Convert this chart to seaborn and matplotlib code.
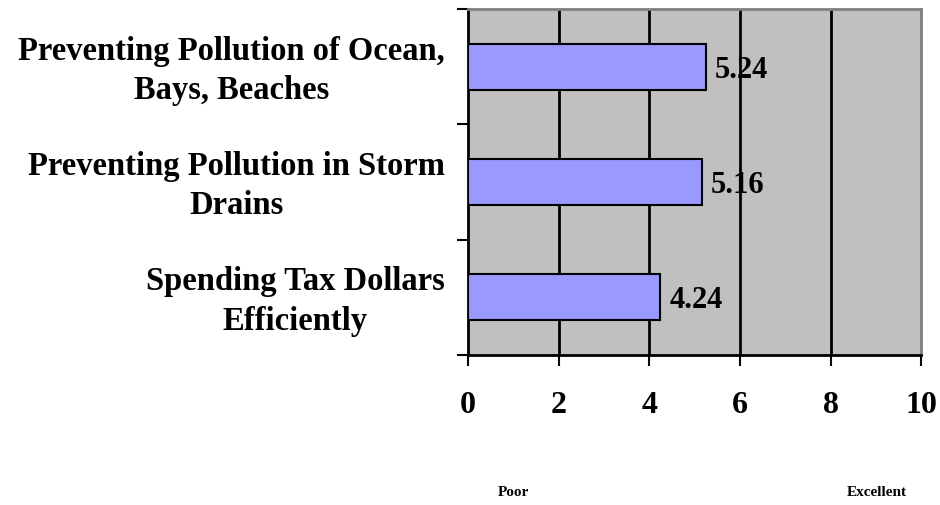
import matplotlib
matplotlib.use("Agg")
import matplotlib.pyplot as plt
import numpy as np
import pandas as pd
import seaborn as sns

# data
categories = [
    "Preventing Pollution of Ocean,\nBays, Beaches",
    "Preventing Pollution in Storm\nDrains",
    "Spending Tax Dollars\nEfficiently",
]
scores = [5.24, 5.16, 4.24]
x_ticks = [0, 2, 4, 6, 8, 10]

df = pd.DataFrame({"Category": categories, "Score": scores})

sns.set_style("white")
plt.rcParams["font.family"] = ["Liberation Serif", "DejaVu Serif"]
plt.rcParams["font.weight"] = "bold"
plt.rcParams["text.color"] = "black"
plt.rcParams["xtick.color"] = "black"
plt.rcParams["ytick.color"] = "black"

fig = plt.figure(figsize=(9.4, 5.05), dpi=100)
ax = fig.add_axes([0.498, 0.297, 0.482, 0.685])
ax.set_facecolor("#C0C0C0")

sns.barplot(data=df, x="Score", y="Category", orient="h", width=0.4,
            color="#9999FF", saturation=1, edgecolor="black", linewidth=1.5,
            ax=ax, zorder=3)

ax.set_xlim(0, 10)
ax.set_ylim(2.5, -0.5)

# gridlines
for v in x_ticks[1:-1]:
    ax.axvline(v, color="black", lw=2, zorder=1)

# value labels
for i, s in enumerate(scores):
    ax.text(s + 0.2, i, f"{s:.2f}", va="center_baseline", ha="left",
            fontsize=22, fontweight="bold", color="black", zorder=4)

# axes ticks
ax.set_xticks(x_ticks)
ax.set_xticklabels([str(t) for t in x_ticks], fontsize=23, fontweight="bold")
ax.tick_params(axis="x", bottom=True, direction="out", length=8, width=1.5,
               pad=18, color="black", labelcolor="black")

ax.set_yticks([-0.5, 0.5, 1.5, 2.5])
ax.set_yticklabels([])
ax.set_yticks([-0.03, 0.97, 1.97], minor=True)
ax.set_yticklabels(categories, minor=True, fontsize=23.5, fontweight="bold")
ax.tick_params(axis="y", which="major", left=True, direction="out", length=8,
               width=1.5, color="black")
ax.tick_params(axis="y", which="minor", left=True, length=0, pad=17,
               labelcolor="black")
for lbl in ax.get_yticklabels(minor=True):
    lbl.set_multialignment("center")
    lbl.set_linespacing(1.35)

ax.set_xlabel("")
ax.set_ylabel("")

for side in ["left", "bottom"]:
    ax.spines[side].set_color("black")
    ax.spines[side].set_linewidth(2)
for side in ["top", "right"]:
    ax.spines[side].set_color("#808080")
    ax.spines[side].set_linewidth(2)

fig.text(513 / 940, 1 - 492 / 505, "Poor", ha="center", va="center",
         fontsize=11, fontweight="bold")
fig.text(877 / 940, 1 - 492 / 505, "Excellent", ha="center", va="center",
         fontsize=11, fontweight="bold")

fig.savefig("out.png", dpi=100)
